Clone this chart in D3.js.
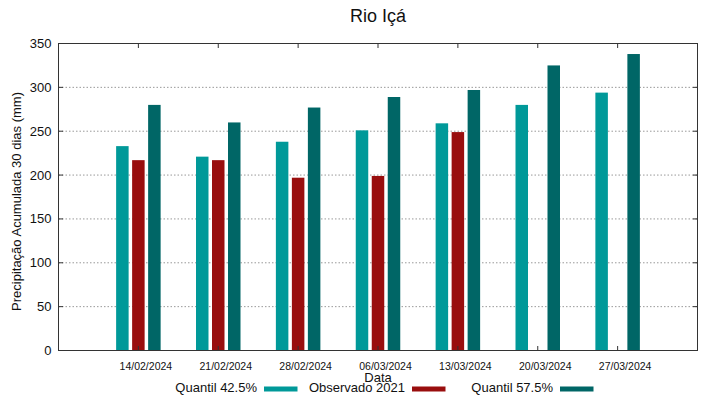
<!DOCTYPE html>
<html>
<head>
<meta charset="utf-8">
<script src="https://cdn.jsdelivr.net/npm/d3@7"></script>
<style>
  body { margin: 0; background: #fff; }
  svg { display: block; font-family: "Liberation Sans", Arial, sans-serif; }
</style>
</head>
<body>
<svg id="chart"></svg>
<script>
const dates = ['14/02/2024', '21/02/2024', '28/02/2024', '06/03/2024', '13/03/2024', '20/03/2024', '27/03/2024'];
const quantil425 = [233, 221, 238, 251, 259, 280, 294];
const observado = [217, 217, 197, 199, 249, null, null];
const quantil575 = [280, 260, 277, 289, 297, 325, 338];
const yTicks = [0, 50, 100, 150, 200, 250, 300, 350];

const width = 719, height = 399;
const svg = d3.select('#chart').attr('width', width).attr('height', height);

const plotL = 58.5, plotR = 697.5, plotT = 43.5, plotB = 350.5;
const x = d3.scaleLinear().domain([-1, dates.length]).range([plotL, plotR]);
const y = d3.scaleLinear().domain([0, 350]).range([plotB, plotT]);

const series = [
    { name: 'Quantil 42.5%', values: quantil425, color: '#009999', offset: -16 },
    { name: 'Observado 2021', values: observado, color: '#990e0e', offset: 0 },
    { name: 'Quantil 57.5%', values: quantil575, color: '#006666', offset: 16 }
];
const barW = 12.5;

// grid
svg.append('g').selectAll('line').data(yTicks.filter(d => d > 0 && d < 350)).enter().append('line')
    .attr('x1', plotL).attr('x2', plotR)
    .attr('y1', d => y(d)).attr('y2', d => y(d))
    .attr('stroke', '#999').attr('stroke-width', 1).attr('stroke-dasharray', '1.5,2');

// bars
series.forEach(s => {
    svg.append('g').selectAll('rect').data(s.values.map((v, i) => ({ v, i })).filter(d => d.v != null))
        .enter().append('rect')
        .attr('x', d => x(d.i) + s.offset - barW / 2)
        .attr('width', barW)
        .attr('y', d => y(d.v))
        .attr('height', d => y(0) - y(d.v))
        .attr('fill', s.color);
});

// ticks (gnuplot style, inward on all sides)
const tickG = svg.append('g').attr('stroke', '#333').attr('stroke-width', 1);
dates.forEach((d, i) => {
    tickG.append('line').attr('x1', x(i)).attr('x2', x(i)).attr('y1', plotB).attr('y2', plotB - 4.5);
    tickG.append('line').attr('x1', x(i)).attr('x2', x(i)).attr('y1', plotT).attr('y2', plotT + 4.5);
});
yTicks.forEach(v => {
    tickG.append('line').attr('x1', plotL).attr('x2', plotL + 4.5).attr('y1', y(v)).attr('y2', y(v));
    tickG.append('line').attr('x1', plotR).attr('x2', plotR - 4.5).attr('y1', y(v)).attr('y2', y(v));
});

// frame
svg.append('rect').attr('x', plotL).attr('y', plotT).attr('width', plotR - plotL).attr('height', plotB - plotT)
    .attr('fill', 'none').attr('stroke', '#333').attr('stroke-width', 1);

// y tick labels
svg.append('g').selectAll('text').data(yTicks).enter().append('text')
    .attr('x', 51.5).attr('y', d => y(d) + 4.5)
    .attr('text-anchor', 'end').attr('font-size', 13).attr('fill', '#111')
    .text(d => d);

// x tick labels
svg.append('g').selectAll('text').data(dates).enter().append('text')
    .attr('x', (d, i) => x(i) + 7.5).attr('y', 370)
    .attr('text-anchor', 'middle').attr('font-size', 10.5).attr('fill', '#111')
    .text(d => d);

// title and axis labels
svg.append('text').attr('x', 378).attr('y', 22).attr('text-anchor', 'middle')
    .attr('font-size', 18).attr('fill', '#111').text('Rio Içá');
svg.append('text').attr('transform', 'translate(21,201.5) rotate(-90)').attr('text-anchor', 'middle')
    .attr('font-size', 13).attr('fill', '#111').text('Precipitação Acumulada 30 dias (mm)');

// legend
const legendX = [257, 405, 553];
series.forEach((s, i) => {
    svg.append('text').attr('x', legendX[i]).attr('y', 392).attr('text-anchor', 'end')
        .attr('font-size', 13).attr('fill', '#111').text(s.name);
    svg.append('rect').attr('x', legendX[i] + 7).attr('y', 386.5).attr('width', 33.5).attr('height', 5)
        .attr('fill', s.color);
});

svg.append('text').attr('x', 378).attr('y', 382).attr('text-anchor', 'middle')
    .attr('font-size', 13).attr('fill', '#111').text('Data');
</script>
</body>
</html>
